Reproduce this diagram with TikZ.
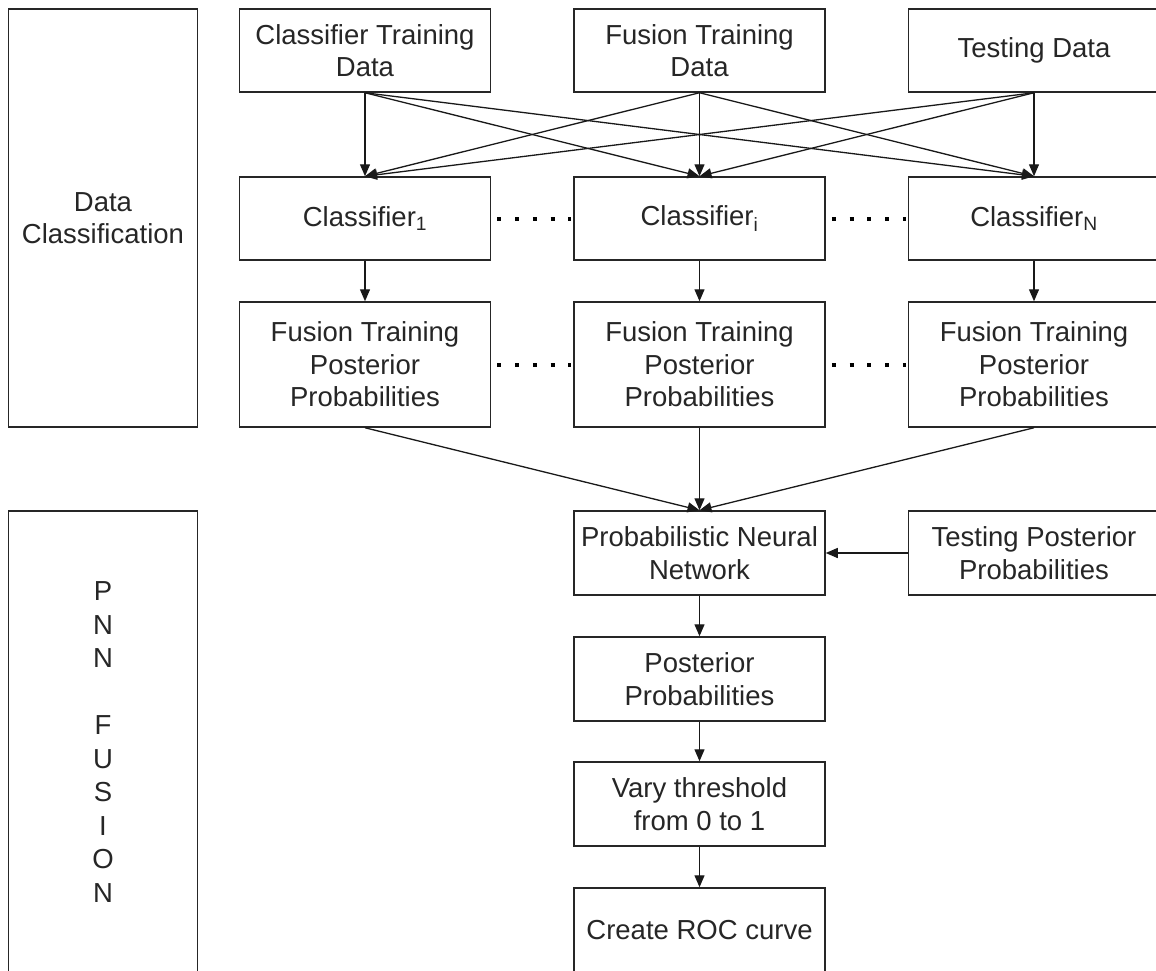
\documentclass[tikz,border=0pt]{standalone}
\usepackage{fontspec}
\setmainfont{Liberation Sans}
\usetikzlibrary{arrows.meta}
\begin{document}
\begin{tikzpicture}[x=1pt,y=-1pt,
  box/.style={draw=black!85, line width=1.5pt, inner sep=0pt, align=center,
    text=black!85, font=\fontsize{27.5}{32.5}\selectfont},
  colbox/.style={box, minimum width=251pt, minimum height=83pt},
  tallbox/.style={box, minimum width=251pt, minimum height=125pt},
  arr/.style={draw=black!90, line width=1.3pt, -{Triangle[length=12pt,width=10pt]}},
  dots/.style={draw=black, line width=4pt, dash pattern=on 4pt off 13.75pt,
    shorten <=6pt, shorten >=2pt}
]
\clip (0,0) rectangle (1156,970);
\fill[white] (0,0) rectangle (1156,970);

% left boxes
\node[box, minimum width=189pt, minimum height=418pt] (dc) at (103,218) {Data\\Classification};
\node[box, minimum width=189pt, minimum height=462pt, font=\fontsize{27.5}{33.5}\selectfont] (pf) at (103,742)
  {P\\N\\N\\[33.5pt]F\\U\\S\\I\\O\\N};

% top row
\node[colbox] (ctd) at (365,50.5) {Classifier Training\\Data};
\node[colbox] (ftd) at (699.5,50.5) {Fusion Training\\Data};
\node[colbox] (td)  at (1034,50.5) {Testing Data};

% classifiers
\node[colbox] (c1) at (365,218.5) {Classifier\textsubscript{1}};
\node[colbox] (ci) at (699.5,218.5) {Classifier\textsubscript{i}};
\node[colbox] (cn) at (1034,218.5) {Classifier\textsubscript{N}};

% fusion training posteriors
\node[tallbox] (p1) at (365,364.5) {Fusion Training\\Posterior\\Probabilities};
\node[tallbox] (pi) at (699.5,364.5) {Fusion Training\\Posterior\\Probabilities};
\node[tallbox] (pn) at (1034,364.5) {Fusion Training\\Posterior\\Probabilities};

% PNN part
\node[colbox, minimum height=84pt] (pnn) at (699.5,553) {Probabilistic Neural\\Network};
\node[colbox, minimum height=84pt] (tpp) at (1034,553) {Testing Posterior\\Probabilities};
\node[colbox, minimum height=84pt] (post) at (699.5,679) {Posterior\\Probabilities};
\node[colbox, minimum height=84pt] (vary) at (699.5,804) {Vary threshold\\from 0 to 1};
\node[colbox, minimum height=84pt] (roc) at (699.5,930) {Create ROC curve};

% data to classifiers
\foreach \s in {ctd,ftd,td}{
  \foreach \t in {c1,ci,cn}{
    \draw[arr] (\s.south) -- (\t.north);
  }
}

% classifiers to posteriors
\draw[arr] (c1) -- (p1);
\draw[arr] (ci) -- (pi);
\draw[arr] (cn) -- (pn);

% dotted connectors
\draw[dots] (c1.east) -- (ci.west);
\draw[dots] (ci.east) -- (cn.west);
\draw[dots] (p1.east) -- (pi.west);
\draw[dots] (pi.east) -- (pn.west);

% posteriors to PNN
\draw[arr] (p1.south) -- (pnn.north);
\draw[arr] (pi.south) -- (pnn.north);
\draw[arr] (pn.south) -- (pnn.north);
\draw[arr] (tpp.west) -- (pnn.east);

% chain
\draw[arr] (pnn) -- (post);
\draw[arr] (post) -- (vary);
\draw[arr] (vary) -- (roc);
\end{tikzpicture}
\end{document}
